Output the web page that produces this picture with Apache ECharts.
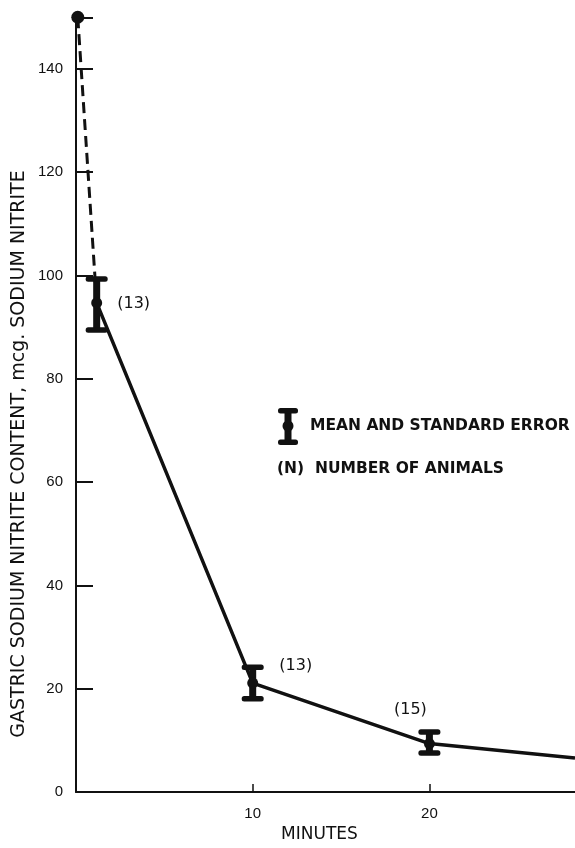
<!DOCTYPE html>
<html>
<head>
<meta charset="utf-8">
<script src="https://cdn.jsdelivr.net/npm/echarts@6/dist/echarts.min.js"></script>
<style>
html,body{margin:0;padding:0;background:#fff;}
#chart{width:575px;height:848px;}
</style>
</head>
<body>
<div id="chart"></div>
<script>
// ---- data ----
const minutes = [1.17, 10, 20];
const meanValues = [94.7, 21.1, 9.4];
const seLow = [89.4, 18.0, 7.5];
const seHigh = [99.4, 24.2, 11.7];
const animalCounts = ['(13)', '(13)', '(15)'];
const initialPoint = [0.1, 150];
const tailPoint = [28.24, 6.6];
const yTicks = [0, 20, 40, 60, 80, 100, 120, 140];
const xTicks = [10, 20];
const yTitle = 'GASTRIC SODIUM NITRITE CONTENT, mcg. SODIUM NITRITE';
const xTitle = 'MINUTES';

// ---- layout/style (not data) ----
const labelOffsets = [[37, 1], [43, -17], [-19, -34]];
const INK = '#111';

const chart = echarts.init(document.getElementById('chart'), null, {renderer: 'canvas'});

const solidData = minutes.map((m, i) => [m, meanValues[i]]).concat([tailPoint]);
const dashedData = [initialPoint, [minutes[0], meanValues[0]]];
const errData = minutes.map((m, i) => [m, meanValues[i], seLow[i], seHigh[i], i]);

function renderErr(params, api) {
  const x = api.value(0);
  const pM = api.coord([x, api.value(1)]);
  const pLo = api.coord([x, api.value(2)]);
  const pHi = api.coord([x, api.value(3)]);
  const idx = api.value(4);
  const off = labelOffsets[idx];
  return {
    type: 'group',
    children: [
      {type: 'rect', shape: {x: pHi[0] - 3.5, y: pHi[1], width: 7, height: pLo[1] - pHi[1]}, style: {fill: INK}},
      {type: 'rect', shape: {x: pHi[0] - 11, y: pHi[1] - 2.5, width: 22, height: 5.5, r: 2.5}, style: {fill: INK}},
      {type: 'rect', shape: {x: pLo[0] - 11, y: pLo[1] - 3, width: 22, height: 5.5, r: 2.5}, style: {fill: INK}},
      {type: 'circle', shape: {cx: pM[0], cy: pM[1], r: 5.5}, style: {fill: INK}},
      {type: 'text', x: pM[0] + off[0], y: pM[1] + off[1],
       style: {text: animalCounts[idx], fill: INK, font: '16px "DejaVu Sans"', align: 'center', verticalAlign: 'middle'}}
    ]
  };
}

const option = {
  animation: false,
  backgroundColor: '#fff',
  grid: {left: 76, right: 0, top: 17.25, bottom: 47, containLabel: false},
  xAxis: {
    type: 'value', min: 0, max: tailPoint[0], interval: 10,
    name: xTitle, nameLocation: 'middle', nameGap: 32,
    nameTextStyle: {fontFamily: 'DejaVu Sans', fontSize: 17, color: INK, padding: [0, 12, 0, 0]},
    axisLine: {show: true, onZero: false, lineStyle: {color: INK, width: 2}},
    axisTick: {show: true, inside: true, length: 8, lineStyle: {color: INK, width: 1.5}},
    axisLabel: {margin: 14, fontFamily: 'Liberation Sans', fontSize: 15, color: INK,
      showMaxLabel: false,
      formatter: v => xTicks.indexOf(v) >= 0 ? String(v) : ''},
    splitLine: {show: false}
  },
  yAxis: {
    type: 'value', min: 0, max: 150, interval: 20,
    axisLine: {show: true, onZero: false, lineStyle: {color: INK, width: 2}},
    axisTick: {show: true, inside: true, length: 17, lineStyle: {color: INK, width: 2}},
    axisLabel: {margin: 13, fontFamily: 'Liberation Sans', fontSize: 15, color: INK,
      formatter: v => yTicks.indexOf(v) >= 0 ? String(v) : ''},
    splitLine: {show: false}
  },
  graphic: [
    {type: 'text', x: 19, y: 454, rotation: Math.PI / 2,
     style: {text: yTitle, fill: INK, font: '19px "DejaVu Sans"', align: 'center', verticalAlign: 'middle'}},
    {type: 'group', left: 278, top: 408, children: [
      {type: 'rect', shape: {x: 6.5, y: 2, width: 7, height: 32}, style: {fill: INK}},
      {type: 'rect', shape: {x: 0, y: 0, width: 20, height: 5.5, r: 2.5}, style: {fill: INK}},
      {type: 'rect', shape: {x: 0, y: 31.5, width: 20, height: 5.5, r: 2.5}, style: {fill: INK}},
      {type: 'circle', shape: {cx: 10, cy: 18, r: 5.5}, style: {fill: INK}}
    ]},
    {type: 'text', left: 310, top: 418, style: {text: 'MEAN AND STANDARD ERROR', fill: INK,
      font: 'bold 15.5px "DejaVu Sans"'}},
    {type: 'text', left: 277, top: 461, style: {text: '(N)  NUMBER OF ANIMALS', fill: INK,
      font: 'bold 15.5px "DejaVu Sans"'}}
  ],
  series: [
    {type: 'line', data: dashedData, symbol: 'none', z: 2,
     lineStyle: {color: INK, width: 3, type: [11, 6]}},
    {type: 'scatter', data: [initialPoint], symbol: 'circle', symbolSize: 13, z: 3, clip: false,
     itemStyle: {color: INK, opacity: 1}},
    {type: 'line', data: solidData, symbol: 'none', z: 2,
     lineStyle: {color: INK, width: 3.5}},
    {type: 'custom', data: errData, renderItem: renderErr, z: 4, clip: false}
  ]
};
chart.setOption(option);
</script>
</body>
</html>
